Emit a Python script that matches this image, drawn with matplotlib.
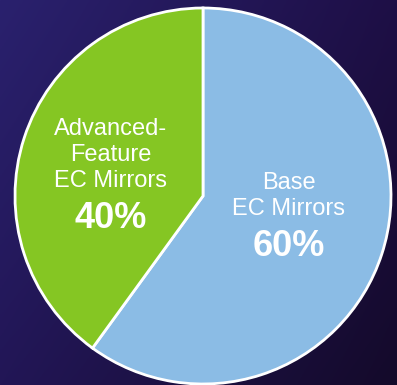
import numpy as np
import matplotlib.pyplot as plt

labels = ["Base\nEC Mirrors", "Advanced-\nFeature\nEC Mirrors"]
shares = [60, 40]
colors = ["#8bbce5", "#85c623"]

W, H = 397, 385
fig = plt.figure(figsize=(W / 100, H / 100), dpi=100)
ax = fig.add_axes([0, 0, 1, 1])

# background: diagonal purple gradient (corner colours)
tl = np.array([42, 33, 110]) / 255
tr = np.array([30, 15, 70]) / 255
bl = np.array([34, 22, 86]) / 255
br = np.array([20, 10, 42]) / 255
u = np.linspace(0, 1, 200)[None, :, None]
v = np.linspace(0, 1, 200)[:, None, None]
grad = (1 - v) * ((1 - u) * tl + u * tr) + v * ((1 - u) * bl + u * br)
ax.imshow(grad, extent=[0, W, 0, H], origin='upper', aspect='auto', zorder=0)

cx, cy, r = 203, H - 196, 188
wedges, _ = ax.pie(shares, colors=colors, startangle=90, counterclock=False,
                   center=(cx, cy), radius=r, frame=True,
                   wedgeprops=dict(edgecolor='white', linewidth=2))
ax.set_xlim(0, W)
ax.set_ylim(0, H)
ax.set_aspect('auto')
ax.axis('off')

font = ['Liberation Sans', 'DejaVu Sans']
# label positions (pixel coords from top)
pos = [(289, 196), (111, 155)]
pct_pos = [(289, 247), (111, 218)]
for lab, s, (x, y), (px, py) in zip(labels, shares, pos, pct_pos):
    ax.text(x, H - y, lab, ha='center', va='center', color='white',
            fontsize=17, family=font, linespacing=1.25)
    ax.text(px, H - py, f"{s}%", ha='center', va='center', color='white',
            fontsize=26, fontweight='bold', family=font)

fig.savefig("out.png", dpi=100)
